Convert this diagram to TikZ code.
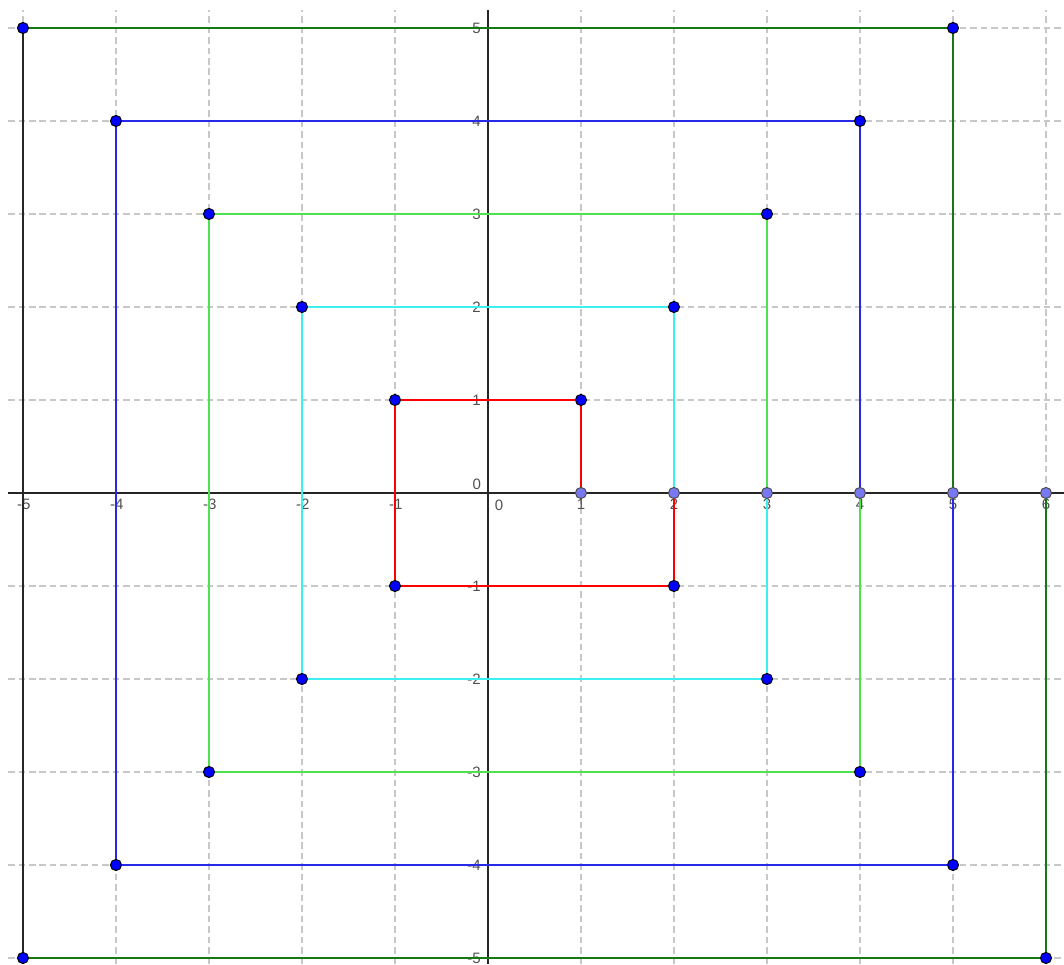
\documentclass[tikz,border=0pt]{standalone}
\usepackage{fontspec}
\newfontfamily\labfont{Liberation Sans}
\definecolor{gridc}{RGB}{200,200,200}
\definecolor{sp1}{RGB}{255,0,0}
\definecolor{sp2}{RGB}{60,240,240}
\definecolor{sp3}{RGB}{80,225,80}
\definecolor{sp4}{RGB}{40,40,235}
\definecolor{sp5}{RGB}{20,120,20}
\definecolor{ptdark}{RGB}{0,0,255}
\definecolor{ptlight}{RGB}{120,120,240}
\definecolor{labc}{RGB}{80,80,80}
\tikzset{
  gridline/.style={gridc, line width=0.45pt, dash pattern=on 2pt off 1.2pt},
  axisline/.style={black!85, line width=0.45pt},
  seg/.style={line width=0.5pt},
  dotdark/.style={circle, fill=ptdark, draw=black, line width=0.3pt, inner sep=0pt, minimum size=3.4pt},
  dotlight/.style={circle, fill=ptlight, draw=black!70, line width=0.3pt, inner sep=0pt, minimum size=3.4pt},
  ticklab/.style={labc, font=\labfont\fontsize{4.6pt}{5pt}\selectfont, inner sep=0pt}
}
\begin{document}
\begin{tikzpicture}[x=1cm,y=1cm]
\useasboundingbox (-5.247,-5.065) rectangle (6.194,5.301);
% grid
\foreach \i in {-5,...,6} {\ifnum\i=0\else \draw[gridline] (\i,-5.065) -- (\i,5.19);\fi}
\foreach \j in {-5,...,5} {\ifnum\j=0\else \draw[gridline] (-5.16,\j) -- (6.194,\j);\fi}
% axes
\coordinate (xl) at (-5.16,0); \coordinate (xr) at (6.194,0);
\coordinate (yb) at (0,-5.065); \coordinate (yt) at (0,5.19);
\draw[axisline] (xl) -- (xr);
\draw[axisline] (yb) -- (yt);
% tick labels
\foreach \i in {-5,...,-1} {\node[ticklab] (tx\i) at (\i+0.01,-0.125) {\i};}
\foreach \i in {1,...,6} {\node[ticklab] (tx\i) at (\i,-0.125) {\i};}
\foreach \j in {-5,...,-1,1,2,...,5} {\node[ticklab, anchor=east] (ty\j) at (-0.07,\j) {\j};}
\node[ticklab] (tx0) at (0.12,-0.13) {0};
\node[ticklab] (ty0) at (-0.12,0.09) {0};
% points
\foreach \k in {1,...,6} {\coordinate (A\k) at (\k,0);}
\foreach \k in {1,...,5} {
  \pgfmathtruncatemacro{\kk}{\k+1}
  \coordinate (B\k) at (\k,\k);
  \coordinate (C\k) at (-\k,\k);
  \coordinate (D\k) at (-\k,-\k);
  \coordinate (E\k) at (\kk,-\k);
}
% spiral segments
\foreach \k/\c in {1/sp1,2/sp2,3/sp3,4/sp4,5/sp5} {
  \pgfmathtruncatemacro{\kk}{\k+1}
  \draw[seg,\c] (A\k) -- (B\k) -- (C\k);
  \ifnum\k=5 \draw[seg,black!85] (C\k) -- (D\k); \else \draw[seg,\c] (C\k) -- (D\k); \fi
  \draw[seg,\c] (D\k) -- (E\k) -- (A\kk);
}
% dots
\foreach \k in {1,...,5} {
  \node[dotdark] (nB\k) at (B\k) {};
  \node[dotdark] (nC\k) at (C\k) {};
  \node[dotdark] (nD\k) at (D\k) {};
  \node[dotdark] (nE\k) at (E\k) {};
}
\foreach \k in {1,...,6} {\node[dotlight] (nA\k) at (A\k) {};}
\end{tikzpicture}
\end{document}
